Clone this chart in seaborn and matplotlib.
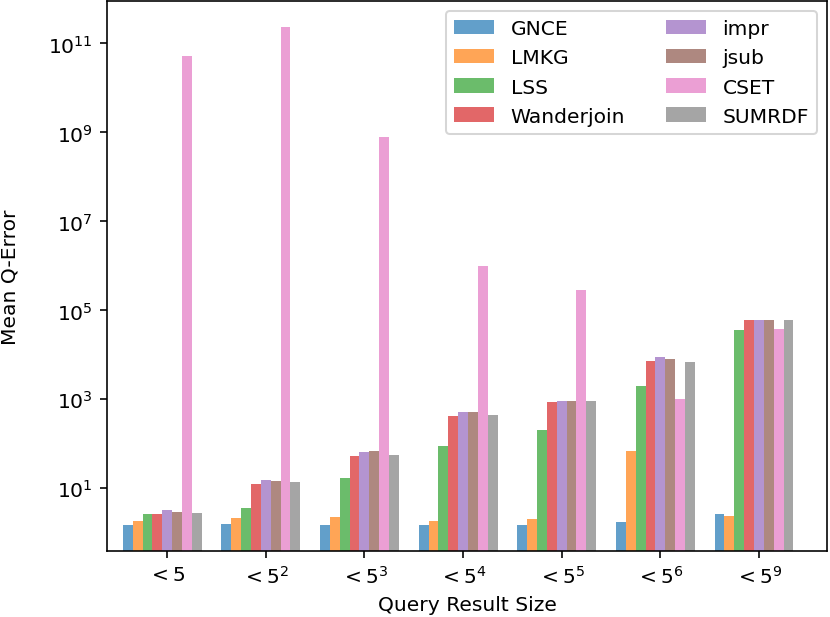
import numpy as np
import pandas as pd
import seaborn as sns
from matplotlib import pyplot as plt

sizes = ["< 5", "< 5^2", "< 5^3", "< 5^4", "< 5^5", "< 5^6", "< 5^9"]
tick_labels = [r"$< 5$", r"$< 5^2$", r"$< 5^3$", r"$< 5^4$", r"$< 5^5$", r"$< 5^6$", r"$< 5^9$"]
methods = ["GNCE", "LMKG", "LSS", "Wanderjoin", "impr", "jsub", "CSET", "SUMRDF"]

gnce = [1.47, 1.6, 1.53, 1.53, 1.47, 1.72, 2.69]
lmkg = [1.8, 2.2, 2.26, 1.88, 2.0, 70, 2.43]
lss = [2.7, 3.6, 16.8, 88, 208, 2030, 36000]
wanderjoin = [2.7, 12.7, 54, 415, 887, 7140, 60500]
impr = [3.2, 15, 64, 525, 915, 8900, 60500]
jsub = [3.0, 14.6, 69, 525, 915, 8050, 60500]
cset = [5.2e10, 2.4e11, 7.7e8, 9.8e5, 2.8e5, 1000, 38000]
sumrdf = [2.85, 13.6, 57, 453, 915, 7030, 60500]

values = [gnce, lmkg, lss, wanderjoin, impr, jsub, cset, sumrdf]
rows = []
for name, vals in zip(methods, values):
    for s, v in zip(sizes, vals):
        rows.append({"size": s, "method": name, "qerror": v})
df = pd.DataFrame(rows)

dpi = 146
fig, ax = plt.subplots(figsize=(830 / dpi, 618 / dpi), dpi=dpi)
ax.set_yscale("log")
sns.barplot(data=df, x="size", y="qerror", hue="method", hue_order=methods,
            order=sizes, palette=sns.color_palette("tab10", 8), saturation=1,
            alpha=0.7, width=0.8, linewidth=0, ax=ax)

ax.set_xticks(np.arange(len(sizes)) + 0.05)
ax.set_xticklabels(tick_labels)
ax.set_xlim(-0.56, 6.74)
ax.set_ylim(0.39, 9e11)
ax.set_yticks([1e1, 1e3, 1e5, 1e7, 1e9, 1e11])
ax.minorticks_off()
ax.set_xlabel("Query Result Size")
ax.set_ylabel("Mean Q-Error", labelpad=14)
sns.move_legend(ax, "upper right", ncol=2, title=None)

fig.subplots_adjust(left=107 / 830, right=827 / 830, top=1 - 2 / 618, bottom=1 - 552 / 618)
fig.savefig("out.png", dpi=dpi)
